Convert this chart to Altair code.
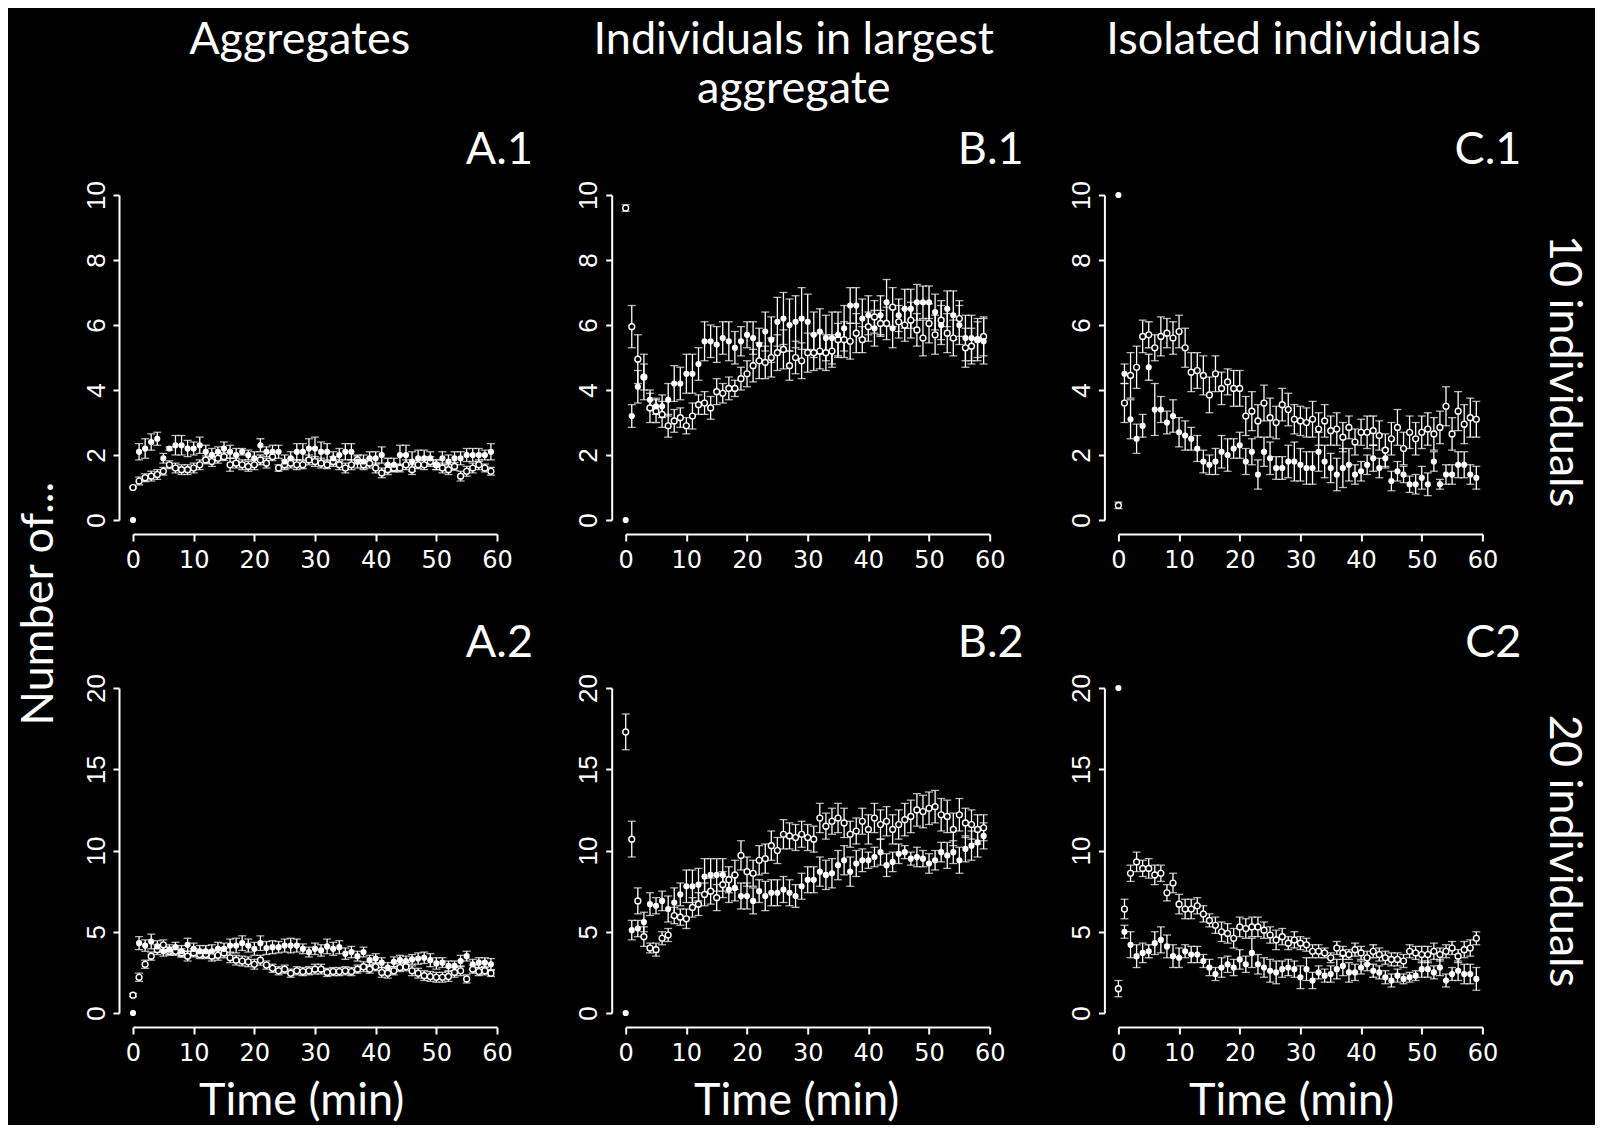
import altair as alt
import pandas as pd

t = list(range(60))

A1_filled = [0.0, 2.1, 2.2, 2.4, 2.5, 1.9, 2.2, 2.3, 2.3, 2.2, 2.2, 2.3, 2.1, 2.0, 2.1, 2.2, 2.1, 2.0, 2.1, 2.0,
             1.9, 2.3, 2.1, 2.1, 2.1, 1.8, 1.9, 2.1, 2.1, 2.2, 2.2, 2.1, 2.1, 1.9, 2.0, 2.1, 2.1, 1.8, 1.8, 1.9,
             1.9, 2.0, 1.7, 1.7, 2.0, 2.0, 1.8, 1.9, 1.9, 1.9, 1.7, 1.9, 1.8, 1.9, 1.9, 2.0, 2.0, 2.0, 2.0, 2.1]
A1_filled_se = [0.0, 0.25, 0.3, 0.25, 0.2, 0.15, 0.05, 0.3, 0.3, 0.25, 0.2, 0.25, 0.2, 0.2, 0.15, 0.2, 0.2, 0.2, 0.1, 0.15,
                0.2, 0.2, 0.15, 0.2, 0.2, 0.2, 0.2, 0.25, 0.25, 0.3, 0.35, 0.3, 0.25, 0.2, 0.2, 0.25, 0.25, 0.2, 0.2, 0.2,
                0.2, 0.25, 0.2, 0.2, 0.3, 0.3, 0.3, 0.25, 0.25, 0.2, 0.15, 0.2, 0.2, 0.2, 0.2, 0.2, 0.2, 0.2, 0.15, 0.25]
A1_open = [1.0, 1.2, 1.3, 1.35, 1.4, 1.5, 1.7, 1.6, 1.55, 1.55, 1.6, 1.7, 1.85, 1.8, 1.9, 1.95, 1.7, 1.75, 1.7, 1.65,
           1.7, 1.85, 1.75, 1.95, 1.6, 1.7, 1.75, 1.7, 1.7, 1.85, 1.8, 1.75, 1.7, 1.8, 1.7, 1.6, 1.7, 1.85, 1.7, 1.75,
           1.6, 1.45, 1.55, 1.6, 1.6, 1.7, 1.55, 1.7, 1.7, 1.8, 1.7, 1.6, 1.55, 1.65, 1.35, 1.5, 1.6, 1.7, 1.6, 1.5]
A1_open_se = [0.02, 0.12, 0.12, 0.15, 0.15, 0.12, 0.12, 0.15, 0.15, 0.15, 0.15, 0.15, 0.12, 0.15, 0.15, 0.12, 0.2, 0.15, 0.15, 0.15,
              0.15, 0.15, 0.15, 0.12, 0.1, 0.15, 0.15, 0.15, 0.12, 0.15, 0.15, 0.15, 0.12, 0.15, 0.15, 0.15, 0.15, 0.12, 0.15, 0.15,
              0.15, 0.15, 0.15, 0.12, 0.12, 0.15, 0.15, 0.12, 0.15, 0.15, 0.15, 0.15, 0.15, 0.12, 0.15, 0.15, 0.15, 0.15, 0.12, 0.12]

B1_filled = [0.0, 3.2, 4.1, 4.4, 3.7, 3.5, 3.5, 3.7, 4.2, 4.2, 4.5, 4.5, 4.8, 5.5, 5.5, 5.4, 5.6, 5.5, 5.3, 5.5,
             5.7, 5.6, 5.4, 5.8, 5.55, 6.1, 6.2, 6.0, 6.1, 6.2, 6.1, 5.7, 5.8, 5.6, 5.6, 5.7, 5.9, 6.6, 6.6, 6.2,
             6.3, 5.9, 6.3, 6.7, 5.9, 6.3, 6.5, 6.5, 6.7, 6.7, 6.7, 6.4, 6.0, 6.5, 6.3, 6.0, 5.6, 5.6, 5.55, 5.5]
B1_filled_se = [0.0, 0.35, 0.5, 0.4, 0.3, 0.25, 0.35, 0.5, 0.55, 0.5, 0.6, 0.6, 0.5, 0.6, 0.5, 0.55, 0.5, 0.6, 0.5, 0.45,
                0.4, 0.5, 0.5, 0.6, 0.7, 0.75, 0.8, 0.8, 0.8, 0.95, 0.85, 0.7, 0.7, 0.7, 0.8, 0.7, 0.7, 0.55, 0.55, 0.6,
                0.6, 0.55, 0.6, 0.7, 0.6, 0.5, 0.6, 0.6, 0.55, 0.5, 0.5, 0.55, 0.6, 0.55, 0.75, 0.6, 0.7, 0.7, 0.65, 0.7]
B1_open = [9.6, 5.95, 4.95, 4.4, 3.45, 3.35, 3.25, 2.9, 3.05, 3.15, 2.9, 3.2, 3.55, 3.6, 3.45, 3.95, 3.9, 4.05, 4.05, 4.35,
           4.5, 4.75, 4.9, 4.85, 5.0, 5.15, 5.25, 4.75, 5.0, 4.9, 5.15, 5.15, 5.2, 5.15, 5.2, 5.55, 5.55, 5.5, 5.75, 5.55,
           5.95, 6.25, 6.05, 6.05, 6.55, 6.1, 6.0, 6.15, 5.85, 5.6, 6.05, 5.7, 6.15, 5.75, 5.6, 6.2, 5.3, 5.35, 5.55, 5.65]
B1_open_se = [0.1, 0.65, 0.75, 0.7, 0.45, 0.35, 0.4, 0.35, 0.35, 0.3, 0.25, 0.4, 0.3, 0.35, 0.35, 0.4, 0.3, 0.35, 0.25, 0.35,
              0.4, 0.5, 0.55, 0.5, 0.6, 0.55, 0.6, 0.45, 0.5, 0.55, 0.6, 0.55, 0.55, 0.55, 0.5, 0.5, 0.55, 0.55, 0.6, 0.4,
              0.45, 0.5, 0.4, 0.5, 0.6, 0.5, 0.5, 0.55, 0.5, 0.55, 0.6, 0.6, 0.6, 0.6, 0.55, 0.55, 0.6, 0.55, 0.55, 0.6]

C1_filled = [10.0, 4.5, 3.1, 2.5, 2.9, 4.7, 3.4, 3.4, 3.0, 3.2, 2.7, 2.6, 2.5, 2.2, 1.8, 1.7, 1.8, 2.1, 2.0, 2.2,
             2.3, 1.8, 2.1, 1.4, 2.1, 1.9, 1.6, 1.6, 1.8, 1.8, 1.7, 1.6, 1.6, 2.1, 1.8, 1.6, 1.4, 1.6, 1.7, 1.4,
             1.5, 1.7, 1.9, 1.6, 1.9, 1.2, 1.5, 1.4, 1.1, 1.1, 1.3, 1.1, 1.8, 1.1, 1.4, 1.4, 1.7, 1.7, 1.4, 1.3]
C1_filled_se = [0.0, 0.3, 0.6, 0.45, 0.35, 0.4, 0.8, 0.4, 0.35, 0.5, 0.45, 0.45, 0.35, 0.4, 0.35, 0.3, 0.4, 0.5, 0.5, 0.3,
                0.4, 0.4, 0.4, 0.45, 0.45, 0.5, 0.35, 0.35, 0.5, 0.6, 0.5, 0.5, 0.5, 0.6, 0.5, 0.45, 0.5, 0.6, 0.5, 0.3,
                0.3, 0.3, 0.4, 0.3, 0.3, 0.3, 0.3, 0.25, 0.25, 0.3, 0.35, 0.35, 0.3, 0.15, 0.3, 0.3, 0.4, 0.4, 0.3, 0.35]
C1_open = [0.45, 3.6, 4.45, 4.7, 5.65, 5.7, 5.3, 5.65, 5.75, 5.6, 5.8, 5.3, 4.55, 4.6, 4.45, 3.85, 4.5, 4.05, 4.25, 4.05,
           4.05, 3.2, 3.35, 3.05, 3.6, 3.15, 3.0, 3.55, 3.4, 3.1, 3.05, 3.0, 3.1, 2.8, 3.05, 2.75, 2.8, 2.55, 2.85, 2.4,
           2.7, 2.7, 2.75, 2.6, 2.15, 2.5, 2.85, 2.2, 2.7, 2.5, 2.7, 2.8, 2.65, 2.85, 3.5, 2.65, 3.35, 2.95, 3.15, 3.1]
C1_open_se = [0.1, 0.6, 0.7, 0.65, 0.5, 0.4, 0.4, 0.6, 0.45, 0.5, 0.5, 0.6, 0.6, 0.55, 0.6, 0.55, 0.55, 0.5, 0.4, 0.55,
              0.55, 0.6, 0.6, 0.5, 0.55, 0.6, 0.5, 0.5, 0.5, 0.45, 0.45, 0.45, 0.55, 0.5, 0.5, 0.45, 0.5, 0.45, 0.35, 0.4,
              0.4, 0.5, 0.45, 0.45, 0.5, 0.5, 0.55, 0.5, 0.5, 0.5, 0.5, 0.5, 0.5, 0.5, 0.6, 0.5, 0.6, 0.6, 0.6, 0.55]

A2_filled = [0.0, 4.3, 4.15, 4.4, 4.1, 3.8, 3.9, 4.05, 3.8, 4.2, 3.95, 3.8, 3.8, 3.8, 3.95, 3.95, 4.15, 4.15, 4.3, 4.15,
             3.95, 4.3, 4.0, 4.05, 4.05, 4.15, 4.15, 4.15, 3.95, 3.75, 3.95, 3.85, 4.1, 3.95, 4.05, 3.65, 3.75, 3.5, 3.75, 3.25,
             3.35, 3.1, 2.8, 3.15, 3.25, 3.2, 3.3, 3.35, 3.4, 3.25, 3.05, 3.1, 2.9, 2.9, 3.2, 3.5, 3.0, 3.1, 3.1, 3.0]
A2_filled_se = [0.0, 0.4, 0.35, 0.45, 0.35, 0.3, 0.3, 0.3, 0.35, 0.4, 0.35, 0.35, 0.35, 0.4, 0.4, 0.35, 0.4, 0.45, 0.45, 0.4,
                0.4, 0.45, 0.4, 0.4, 0.35, 0.4, 0.45, 0.4, 0.3, 0.3, 0.35, 0.35, 0.45, 0.4, 0.4, 0.35, 0.35, 0.3, 0.3, 0.3,
                0.3, 0.3, 0.3, 0.3, 0.3, 0.3, 0.3, 0.35, 0.35, 0.4, 0.35, 0.3, 0.3, 0.3, 0.35, 0.3, 0.3, 0.3, 0.3, 0.35]
A2_open = [1.1, 2.2, 3.0, 3.5, 3.9, 4.2, 3.8, 3.8, 3.7, 3.5, 3.7, 3.6, 3.6, 3.5, 3.55, 3.7, 3.4, 3.25, 3.2, 3.15,
           3.0, 3.25, 2.95, 2.75, 2.6, 2.7, 2.45, 2.6, 2.55, 2.6, 2.7, 2.7, 2.5, 2.55, 2.55, 2.6, 2.55, 2.7, 2.85, 2.7,
           2.85, 2.5, 2.45, 2.6, 2.8, 2.85, 2.6, 2.45, 2.3, 2.25, 2.2, 2.2, 2.25, 2.5, 2.6, 2.1, 2.7, 2.55, 2.6, 2.45]
A2_open_se = [0.1, 0.25, 0.25, 0.25, 0.3, 0.3, 0.25, 0.25, 0.25, 0.3, 0.25, 0.25, 0.25, 0.3, 0.3, 0.3, 0.3, 0.3, 0.3, 0.3,
              0.3, 0.3, 0.25, 0.25, 0.25, 0.25, 0.25, 0.25, 0.25, 0.25, 0.3, 0.3, 0.25, 0.25, 0.25, 0.25, 0.25, 0.25, 0.3, 0.25,
              0.25, 0.3, 0.3, 0.25, 0.25, 0.25, 0.3, 0.3, 0.3, 0.3, 0.3, 0.3, 0.3, 0.3, 0.3, 0.25, 0.25, 0.25, 0.25, 0.2]

B2_filled = [0.0, 5.1, 5.2, 5.6, 6.7, 6.6, 6.9, 6.4, 6.8, 7.3, 7.8, 7.8, 7.9, 8.4, 8.5, 8.5, 8.5, 7.6, 7.7, 7.2,
             7.2, 6.9, 7.5, 7.2, 7.4, 7.4, 7.6, 7.4, 7.2, 7.8, 8.2, 8.2, 8.7, 8.5, 8.6, 9.1, 9.4, 8.7, 9.2, 9.4,
             9.4, 9.6, 9.9, 9.1, 9.3, 9.8, 9.9, 9.5, 9.6, 9.5, 9.2, 9.4, 9.9, 9.7, 9.9, 9.4, 10.1, 10.3, 10.5, 10.9]
B2_filled_se = [0.0, 0.6, 0.5, 0.6, 0.7, 0.5, 0.6, 0.8, 0.9, 0.7, 1.0, 1.0, 1.0, 1.1, 1.0, 1.0, 1.0, 0.8, 0.8, 0.8,
                0.8, 0.8, 0.7, 0.9, 0.8, 0.8, 0.8, 0.8, 0.7, 0.8, 0.8, 0.8, 0.9, 0.9, 0.9, 0.9, 0.9, 0.9, 0.8, 0.7,
                0.5, 0.6, 0.8, 0.7, 0.6, 0.6, 0.4, 0.4, 0.6, 0.5, 0.6, 0.6, 0.6, 0.8, 0.7, 0.8, 0.8, 0.9, 0.9, 0.8]
B2_open = [17.3, 10.7, 6.9, 4.7, 4.0, 3.9, 4.6, 4.8, 6.0, 5.9, 5.8, 6.5, 6.7, 7.3, 7.5, 7.1, 7.9, 8.2, 8.5, 9.7,
           8.7, 8.6, 9.4, 9.5, 10.3, 10.0, 11.0, 10.9, 10.8, 11.0, 10.8, 10.7, 12.0, 11.5, 11.8, 12.0, 11.7, 11.0, 11.2, 11.8,
           11.3, 12.0, 11.6, 11.8, 11.3, 11.6, 11.9, 12.1, 12.5, 12.4, 12.6, 12.7, 12.2, 12.1, 11.3, 12.2, 11.7, 11.6, 11.3, 11.4]
B2_open_se = [1.1, 1.1, 0.8, 0.6, 0.3, 0.4, 0.4, 0.4, 0.5, 0.5, 0.6, 0.6, 0.7, 0.7, 0.8, 0.8, 0.8, 0.8, 0.9, 0.9,
              0.9, 0.8, 0.9, 0.9, 0.9, 0.8, 0.9, 0.8, 0.8, 0.8, 0.8, 0.8, 0.9, 0.8, 0.8, 0.9, 0.9, 0.8, 0.8, 0.8,
              0.9, 0.9, 0.9, 0.9, 0.9, 0.9, 1.0, 1.0, 1.0, 1.0, 1.0, 1.0, 1.0, 1.0, 1.0, 1.0, 0.9, 0.9, 0.9, 0.8]

C2_filled = [20.0, 5.0, 4.2, 3.5, 3.7, 3.8, 4.3, 4.5, 4.1, 3.5, 3.4, 3.8, 3.6, 3.6, 3.2, 2.8, 2.4, 2.8, 3.0, 2.8,
             3.3, 3.0, 3.7, 3.0, 2.8, 2.6, 2.5, 2.7, 2.8, 2.7, 2.2, 2.7, 2.0, 2.5, 2.3, 2.4, 2.7, 2.9, 2.5, 2.5,
             2.8, 3.0, 2.6, 2.5, 2.2, 2.0, 2.3, 2.1, 2.2, 2.3, 2.7, 2.7, 2.5, 2.8, 2.0, 2.4, 2.6, 2.4, 2.4, 2.1]
C2_filled_se = [0.0, 0.4, 0.8, 0.7, 0.6, 0.4, 0.7, 0.8, 0.7, 0.7, 0.6, 0.4, 0.5, 0.5, 0.4, 0.5, 0.4, 0.6, 0.5, 0.5,
                0.6, 0.5, 0.9, 0.6, 0.6, 0.7, 0.7, 0.5, 0.5, 0.5, 0.7, 0.7, 0.5, 0.4, 0.4, 0.5, 0.6, 0.6, 0.6, 0.5,
                0.4, 0.4, 0.4, 0.4, 0.4, 0.4, 0.4, 0.3, 0.3, 0.3, 0.5, 0.5, 0.4, 0.5, 0.4, 0.4, 0.6, 0.6, 0.6, 0.7]
C2_open = [1.5, 6.4, 8.6, 9.3, 8.9, 8.9, 8.5, 8.6, 7.4, 8.0, 6.7, 6.4, 6.4, 6.6, 6.1, 5.7, 5.4, 5.0, 4.9, 4.6,
           5.3, 5.2, 5.3, 5.3, 5.1, 4.8, 4.5, 4.7, 4.3, 4.5, 4.3, 4.2, 3.8, 3.8, 3.7, 3.4, 4.0, 3.7, 3.6, 3.9,
           3.7, 3.4, 3.8, 3.6, 3.4, 3.3, 3.3, 3.2, 3.8, 3.7, 3.6, 3.6, 3.8, 3.6, 3.8, 4.0, 3.5, 3.9, 4.0, 4.6]
C2_open_se = [0.5, 0.6, 0.5, 0.6, 0.5, 0.6, 0.6, 0.5, 0.5, 0.6, 0.6, 0.6, 0.6, 0.5, 0.5, 0.4, 0.5, 0.6, 0.6, 0.6,
              0.6, 0.6, 0.6, 0.6, 0.5, 0.5, 0.6, 0.5, 0.4, 0.5, 0.4, 0.4, 0.4, 0.4, 0.3, 0.3, 0.4, 0.4, 0.3, 0.4,
              0.4, 0.4, 0.4, 0.4, 0.4, 0.4, 0.4, 0.4, 0.4, 0.4, 0.5, 0.5, 0.5, 0.4, 0.4, 0.4, 0.4, 0.5, 0.5, 0.4]

x_ticks = [0, 10, 20, 30, 40, 50, 60]
y_ticks_10 = [0, 2, 4, 6, 8, 10]
y_ticks_20 = [0, 5, 10, 15, 20]

col_headers = [["Aggregates"], ["Individuals in largest", "aggregate"], ["Isolated individuals"]]
row_labels = ["10 individuals", "20 individuals"]
panel_labels = [["A.1", "B.1", "C.1"], ["A.2", "B.2", "C2"]]
series_data = {
    (0, 0): (A1_filled, A1_filled_se, A1_open, A1_open_se),
    (0, 1): (B1_filled, B1_filled_se, B1_open, B1_open_se),
    (0, 2): (C1_filled, C1_filled_se, C1_open, C1_open_se),
    (1, 0): (A2_filled, A2_filled_se, A2_open, A2_open_se),
    (1, 1): (B2_filled, B2_filled_se, B2_open, B2_open_se),
    (1, 2): (C2_filled, C2_filled_se, C2_open, C2_open_se),
}

W, H = 364, 325
BIG = "Lato"
BIGSIZE = 45

# layout positions (relative to each panel's plot origin)
header_x = [166.7, 168.0, 175.3]
label_right_x = [400, 398, 403]
time_x = [168.7, 171.0, 173.3]


def text_layer(label, x, y, size=BIGSIZE, angle=0, align="center", baseline="alphabetic"):
    return alt.Chart(pd.DataFrame({"label": [label]})).mark_text(
        align=align, baseline=baseline, angle=angle, font=BIG, fontSize=size, color="white"
    ).encode(text="label:N", x=alt.value(x), y=alt.value(y))


def make_panel(r, c):
    f, fse, o, ose = series_data[(r, c)]
    rows = []
    for name, vals, ses in (("filled", f, fse), ("open", o, ose)):
        for ti, v, s in zip(t, vals, ses):
            rows.append({"t": ti, "mean": v, "lo": v - s, "hi": v + s, "series": name})
    df = pd.DataFrame(rows)
    ymax = 10 if r == 0 else 20
    yt = y_ticks_10 if r == 0 else y_ticks_20
    xs = alt.Scale(domain=[0, 60], nice=False, zero=False)
    ys = alt.Scale(domain=[0, ymax], nice=False)
    xaxis = alt.Axis(values=x_ticks, offset=14, tickSize=7, labelPadding=7, title=None,
                     labelFont="DejaVu Sans", labelFontSize=24,
                     labelFlush=False, labelOverlap=False)
    yaxis = alt.Axis(values=yt, offset=14, tickSize=6, labelPadding=4, title=None,
                     labelFont="Liberation Sans", labelFontSize=26,
                     labelAngle=270, labelAlign="center", labelBaseline="bottom",
                     labelFlush=False, labelOverlap=False)
    X = alt.X("t:Q", scale=xs, axis=xaxis)
    err = alt.Chart(df).transform_filter("datum.hi > datum.lo + 0.001").mark_errorbar(
        ticks=True, size=8, thickness=1.3, color="white"
    ).encode(x=X, y=alt.Y("lo:Q", scale=ys, axis=yaxis), y2="hi:Q")
    filled = alt.Chart(df).transform_filter("datum.series == 'filled'").mark_point(
        shape="circle", filled=True, size=38, color="white", opacity=1
    ).encode(x=X, y=alt.Y("mean:Q", scale=ys, axis=yaxis))
    opened = alt.Chart(df).transform_filter("datum.series == 'open'").mark_point(
        shape="circle", filled=True, size=34, fill="black", stroke="white", strokeWidth=1.4, opacity=1
    ).encode(x=X, y=alt.Y("mean:Q", scale=ys, axis=yaxis))
    layers = [err, opened, filled]
    layers.append(text_layer(panel_labels[r][c], label_right_x[c], -31, align="right"))
    if r == 0:
        hdr = col_headers[c]
        layers.append(text_layer(hdr[0], header_x[c], -141.3))
        if len(hdr) > 1:
            layers.append(text_layer(hdr[1], header_x[c], -92.3))
    if r == 1:
        layers.append(text_layer("Time (min)", time_x[c], 426.7))
    if c == 2:
        layers.append(text_layer(row_labels[r], 445.3, 176 if r == 0 else 163, angle=90, baseline="middle"))
    if r == 0 and c == 0:
        layers.append(text_layer("Number of...", -93.8, 408.7, angle=270, baseline="middle"))
    return alt.layer(*layers).properties(width=W, height=H)


panels = [make_panel(r, c) for r in range(2) for c in range(3)]

chart = alt.concat(*panels, columns=3, spacing={"row": 168, "column": 128.7}, bounds="flush").properties(
    background="black",
    padding={"left": 9, "top": 9, "right": 8.5, "bottom": 1},
).configure_view(stroke=None).configure_axis(
    domainColor="white", tickColor="white", labelColor="white", grid=False,
    domainWidth=2, tickWidth=2,
)

chart.save("out.html", embed_options={"renderer": "svg", "actions": False})
